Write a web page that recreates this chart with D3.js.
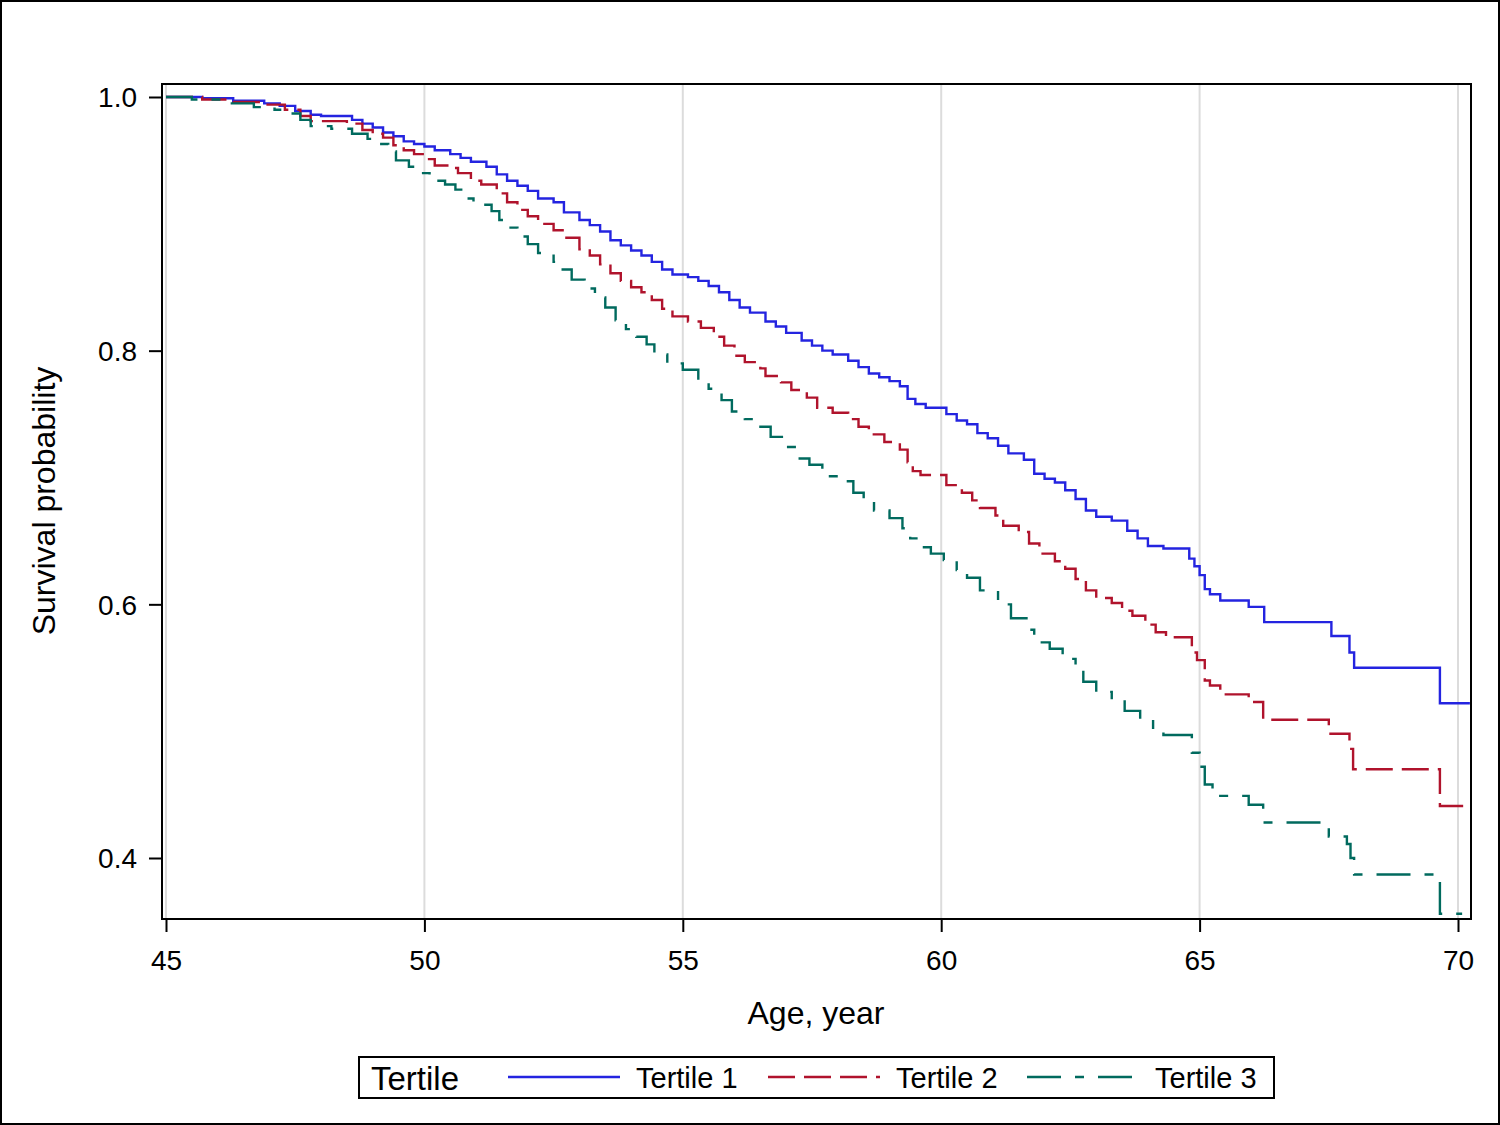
<!DOCTYPE html>
<html>
<head>
<meta charset="utf-8">
<script src="https://cdn.jsdelivr.net/npm/d3@7"></script>
<style>
  html, body { margin: 0; padding: 0; background: #fff; }
  svg { display: block; font-family: Arial, "Liberation Sans", sans-serif; }
</style>
</head>
<body>
<svg id="chart" width="1500" height="1125"></svg>
<script>
// ---------------- DATA ----------------
const seriesNames = ["Tertile 1", "Tertile 2", "Tertile 3"];
const legendTitle = "Tertile";
const xTicks = [45, 50, 55, 60, 65, 70];
const yTicks = [0.4, 0.6, 0.8, 1.0];
const xLabel = "Age, year";
const yLabel = "Survival probability";

const t1Age = [45, 45.7, 46.3, 46.9, 47.2, 47.5, 47.8, 48.0, 48.6, 48.8, 49.0, 49.2, 49.4, 49.6, 49.8, 50.0, 50.2, 50.5, 50.7, 50.9, 51.2, 51.4, 51.6, 51.8, 52.0, 52.2, 52.5, 52.7, 53.0, 53.2, 53.4, 53.6, 53.8, 54.0, 54.2, 54.4, 54.6, 54.8, 55.1, 55.3, 55.5, 55.7, 55.9, 56.1, 56.3, 56.6, 56.8, 57.0, 57.3, 57.5, 57.7, 57.9, 58.2, 58.4, 58.6, 58.8, 59.0, 59.2, 59.35, 59.5, 59.7, 60.1, 60.3, 60.5, 60.7, 60.9, 61.1, 61.3, 61.6, 61.8, 62.0, 62.2, 62.4, 62.6, 62.8, 63.0, 63.3, 63.6, 63.8, 64.0, 64.3, 64.8, 64.9, 65.0, 65.1, 65.2, 65.4, 65.95, 66.25, 67.55, 67.9, 67.99, 69.65, 70.23];
const t1Surv = [1.0, 0.999, 0.997, 0.995, 0.993, 0.989, 0.986, 0.985, 0.982, 0.979, 0.976, 0.972, 0.969, 0.965, 0.963, 0.961, 0.958, 0.955, 0.952, 0.949, 0.945, 0.939, 0.934, 0.930, 0.926, 0.920, 0.917, 0.909, 0.903, 0.899, 0.894, 0.887, 0.883, 0.879, 0.875, 0.870, 0.864, 0.860, 0.858, 0.855, 0.851, 0.846, 0.840, 0.834, 0.830, 0.823, 0.819, 0.814, 0.808, 0.804, 0.800, 0.797, 0.792, 0.787, 0.782, 0.779, 0.776, 0.772, 0.762, 0.758, 0.755, 0.750, 0.745, 0.742, 0.735, 0.731, 0.725, 0.719, 0.714, 0.703, 0.699, 0.696, 0.690, 0.683, 0.674, 0.669, 0.666, 0.658, 0.652, 0.646, 0.644, 0.636, 0.630, 0.623, 0.612, 0.608, 0.603, 0.598, 0.586, 0.575, 0.562, 0.550, 0.522, 0.522];

const t2Age = [45, 45.7, 46.3, 46.9, 47.3, 47.6, 47.8, 48.5, 48.8, 49.0, 49.2, 49.4, 49.6, 49.8, 50.0, 50.2, 50.5, 50.65, 50.9, 51.1, 51.4, 51.6, 51.8, 52.0, 52.2, 52.5, 52.7, 53.0, 53.2, 53.4, 53.6, 53.8, 54.0, 54.2, 54.4, 54.6, 54.8, 55.1, 55.35, 55.6, 55.8, 56.0, 56.2, 56.5, 56.6, 56.9, 57.1, 57.4, 57.6, 57.9, 58.2, 58.4, 58.6, 58.9, 59.2, 59.35, 59.45, 59.6, 60.1, 60.4, 60.6, 60.75, 61.05, 61.2, 61.5, 61.7, 61.9, 62.2, 62.4, 62.6, 62.8, 63.0, 63.3, 63.5, 63.7, 63.95, 64.15, 64.35, 64.85, 64.95, 65.1, 65.2, 65.4, 65.95, 66.23, 67.5, 67.9, 67.97, 69.65, 70.1];
const t2Surv = [1.0, 0.998, 0.996, 0.994, 0.990, 0.985, 0.981, 0.979, 0.974, 0.971, 0.968, 0.962, 0.958, 0.955, 0.951, 0.946, 0.944, 0.940, 0.934, 0.931, 0.924, 0.917, 0.911, 0.906, 0.900, 0.895, 0.889, 0.880, 0.875, 0.868, 0.861, 0.855, 0.850, 0.846, 0.840, 0.833, 0.827, 0.823, 0.818, 0.811, 0.804, 0.796, 0.791, 0.786, 0.780, 0.775, 0.769, 0.763, 0.755, 0.751, 0.746, 0.740, 0.734, 0.728, 0.722, 0.712, 0.705, 0.702, 0.694, 0.688, 0.682, 0.676, 0.670, 0.662, 0.657, 0.648, 0.640, 0.634, 0.628, 0.620, 0.611, 0.605, 0.601, 0.595, 0.591, 0.584, 0.578, 0.574, 0.562, 0.556, 0.540, 0.536, 0.529, 0.523, 0.509, 0.498, 0.486, 0.470, 0.441, 0.441];

const t3Age = [45, 45.5, 46.2, 46.7, 47.1, 47.4, 47.6, 47.8, 48.2, 48.6, 48.9, 49.1, 49.3, 49.45, 49.7, 49.9, 50.1, 50.4, 50.6, 50.8, 50.95, 51.3, 51.45, 51.6, 51.8, 52.0, 52.2, 52.5, 52.6, 52.85, 53.1, 53.3, 53.5, 53.7, 53.9, 54.1, 54.3, 54.45, 54.7, 55.0, 55.3, 55.5, 55.75, 55.95, 56.2, 56.45, 56.7, 56.95, 57.2, 57.45, 57.7, 58.0, 58.3, 58.5, 58.7, 59.0, 59.25, 59.4, 59.55, 59.8, 60.05, 60.3, 60.5, 60.75, 61.1, 61.35, 61.65, 61.8, 62.1, 62.35, 62.6, 62.75, 63.0, 63.3, 63.55, 63.85, 64.1, 64.3, 64.85, 65.0, 65.1, 65.25, 65.4, 65.95, 66.23, 67.5, 67.85, 67.92, 67.99, 69.65, 70.08];
const t3Surv = [1.0, 0.998, 0.995, 0.992, 0.990, 0.987, 0.982, 0.977, 0.975, 0.971, 0.967, 0.963, 0.957, 0.950, 0.945, 0.940, 0.934, 0.931, 0.927, 0.920, 0.915, 0.910, 0.903, 0.897, 0.890, 0.884, 0.877, 0.870, 0.864, 0.856, 0.849, 0.842, 0.834, 0.824, 0.817, 0.811, 0.805, 0.797, 0.790, 0.785, 0.777, 0.770, 0.761, 0.752, 0.746, 0.740, 0.732, 0.724, 0.715, 0.710, 0.701, 0.697, 0.688, 0.682, 0.674, 0.668, 0.660, 0.652, 0.645, 0.640, 0.635, 0.627, 0.621, 0.611, 0.600, 0.589, 0.580, 0.570, 0.565, 0.557, 0.549, 0.539, 0.531, 0.525, 0.516, 0.509, 0.501, 0.497, 0.483, 0.472, 0.458, 0.452, 0.449, 0.442, 0.428, 0.417, 0.411, 0.400, 0.387, 0.356, 0.356];

// ---------------- STYLE ----------------
const colors = ["#2424e0", "#b0132c", "#006a5e"];
const dashes = [null, "27,9", "34,14,9,14"];

const svg = d3.select("#chart");
const W = 1500, H = 1125;
const frame = {left: 162, right: 1471, top: 84, bottom: 919};

const x = d3.scaleLinear().domain([45, 70]).range([166, 1458]);
const y = d3.scaleLinear().domain([0.4, 1.0]).range([858, 97]);

// outer border
svg.append("rect").attr("x", 1).attr("y", 1).attr("width", W - 2).attr("height", H - 2)
  .attr("fill", "#fff").attr("stroke", "#000").attr("stroke-width", 2);

// gridlines (vertical)
svg.append("g").selectAll("line").data(xTicks).join("line")
  .attr("x1", d => x(d)).attr("x2", d => x(d))
  .attr("y1", frame.top).attr("y2", frame.bottom)
  .attr("stroke", "#dcdcdc").attr("stroke-width", 2);

// series
const series = [
  {name: seriesNames[0], age: t1Age, surv: t1Surv},
  {name: seriesNames[1], age: t2Age, surv: t2Surv},
  {name: seriesNames[2], age: t3Age, surv: t3Surv}
];
const line = d3.line().x(d => x(d[0])).y(d => y(d[1])).curve(d3.curveStepAfter);

svg.append("defs").append("clipPath").attr("id", "clip").append("rect")
  .attr("x", frame.left).attr("y", frame.top)
  .attr("width", frame.right - frame.left).attr("height", frame.bottom - frame.top);

const lg = svg.append("g").attr("clip-path", "url(#clip)");
series.forEach((s, i) => {
  const pts = s.age.map((a, k) => [a, s.surv[k]]);
  lg.append("path").datum(pts).attr("d", line)
    .attr("fill", "none").attr("stroke", colors[i]).attr("stroke-width", 2.4)
    .attr("stroke-dasharray", dashes[i]);
});

// frame
svg.append("rect").attr("x", frame.left).attr("y", frame.top)
  .attr("width", frame.right - frame.left).attr("height", frame.bottom - frame.top)
  .attr("fill", "none").attr("stroke", "#000").attr("stroke-width", 2);

// axes
const xAxis = d3.axisBottom(x).tickValues(xTicks).tickFormat(d3.format("d")).tickSize(13).tickSizeOuter(0);
const gx = svg.append("g").attr("transform", `translate(0,${frame.bottom})`).call(xAxis);
gx.select(".domain").remove();
gx.selectAll(".tick line").attr("stroke", "#000").attr("stroke-width", 2);
gx.selectAll(".tick text").attr("font-size", 28).attr("font-family", "Arial, 'Liberation Sans', sans-serif")
  .attr("fill", "#000").attr("y", 0).attr("dy", null).attr("transform", "translate(0,51)");

const yAxis = d3.axisLeft(y).tickValues(yTicks).tickFormat(d3.format(".1f")).tickSize(13).tickSizeOuter(0);
const gy = svg.append("g").attr("transform", `translate(${frame.left},0)`).call(yAxis);
gy.select(".domain").remove();
gy.selectAll(".tick line").attr("stroke", "#000").attr("stroke-width", 2);
gy.selectAll(".tick text").attr("font-size", 28).attr("font-family", "Arial, 'Liberation Sans', sans-serif")
  .attr("fill", "#000").attr("x", -25).attr("dy", "0.35em");

// axis labels
svg.append("text").attr("x", 816).attr("y", 1024).attr("text-anchor", "middle")
  .attr("font-size", 32).attr("fill", "#000").text(xLabel);
svg.append("text").attr("transform", "translate(55,501) rotate(-90)").attr("text-anchor", "middle")
  .attr("font-size", 32).attr("fill", "#000").text(yLabel);

// legend
const leg = svg.append("g");
leg.append("rect").attr("x", 359).attr("y", 1057).attr("width", 915).attr("height", 41)
  .attr("fill", "#fff").attr("stroke", "#000").attr("stroke-width", 2);
leg.append("text").attr("x", 371).attr("y", 1090).attr("font-size", 33).attr("fill", "#000").text(legendTitle);
const legItems = [
  {x1: 508, x2: 620, tx: 636},
  {x1: 768, x2: 880, tx: 896},
  {x1: 1027, x2: 1137, tx: 1155}
];
series.forEach((s, i) => {
  const it = legItems[i];
  leg.append("line").attr("x1", it.x1).attr("x2", it.x2).attr("y1", 1077).attr("y2", 1077)
    .attr("stroke", colors[i]).attr("stroke-width", 2.4).attr("stroke-dasharray", dashes[i]);
  leg.append("text").attr("x", it.tx).attr("y", 1088).attr("font-size", 29).attr("fill", "#000").text(s.name);
});
</script>
</body>
</html>
